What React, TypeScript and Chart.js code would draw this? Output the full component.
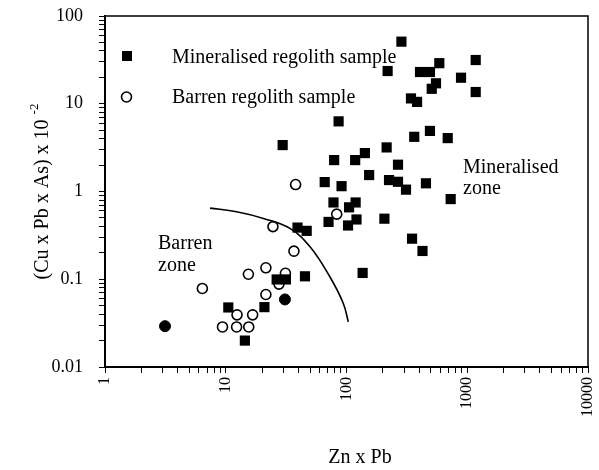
import React, { useEffect, useRef } from 'react';
import { Chart, registerables } from 'chart.js';
Chart.register(...registerables);

// Mineralised regolith samples (filled squares)
const mineralisedX = [285, 219, 587, 406, 491, 1175, 888, 551, 508, 1175, 342, 384, 86, 491, 364, 689, 215, 142, 118, 79, 267, 29.6, 154, 225, 267, 311, 455, 66, 91, 729, 78, 119, 105, 71, 121, 103, 206, 349, 426, 136, 39.3, 46.8, 26.4, 31.5, 45.3, 10.5, 20.9, 14.4];
const mineralisedY = [51, 23.6, 29, 23, 23, 31.5, 19.8, 17.1, 14.8, 13.6, 11.5, 10.5, 6.3, 4.9, 4.2, 4.06, 3.18, 2.74, 2.28, 2.28, 2.02, 3.38, 1.54, 1.35, 1.29, 1.05, 1.24, 1.28, 1.15, 0.82, 0.75, 0.75, 0.66, 0.45, 0.48, 0.41, 0.49, 0.29, 0.21, 0.118, 0.388, 0.356, 0.0995, 0.0995, 0.108, 0.0477, 0.0481, 0.02];

// Barren regolith samples (open circles)
const barrenX = [37.9, 83, 24.6, 36.7, 15.4, 21.5, 31.2, 27.6, 21.5, 6.4, 12.4, 16.7, 9.4, 12.3, 15.5];
const barrenY = [1.2, 0.552, 0.398, 0.209, 0.114, 0.135, 0.117, 0.088, 0.067, 0.0785, 0.0393, 0.0393, 0.0286, 0.0286, 0.0286];

// Filled circles
const filledCircleX = [3.14, 30.9];
const filledCircleY = [0.0292, 0.0589];

// Boundary curve between zones
const boundaryX = [7.41, 12.3, 20.5, 34.0, 49.9, 73.0, 94.1, 103.5];
const boundaryY = [0.647, 0.587, 0.493, 0.38, 0.234, 0.106, 0.053, 0.0327];

const xMajorTicks = [1, 10, 100, 1000, 10000];
const xTickLabels = ['1', '10', '100', '1000', '10000'];
const yMajorTicks = [0.01, 0.1, 1, 10, 100];
const yTickLabels = ['0.01', '0.1', '1', '10', '100'];
const minorSteps = [1, 2, 3, 4, 5, 6, 7, 8, 9];

const legendLabels = ['Mineralised regolith sample', 'Barren regolith sample'];
const xTitle = 'Zn x Pb';
const yTitleMain = '(Cu x Pb x As) x 10';
const yTitleSup = '-2';

const FONT = "'Liberation Serif', 'Times New Roman', serif";

function pts(xs: number[], ys: number[]) {
  return xs.map((x, i) => ({ x, y: ys[i] }));
}

function buildLogTicks(majors: number[]) {
  const t: { value: number }[] = [];
  for (let i = 0; i < majors.length - 1; i++) {
    for (const m of minorSteps) t.push({ value: majors[i] * m });
  }
  t.push({ value: majors[majors.length - 1] });
  return t;
}

function labelFor(value: number, majors: number[], labels: string[]) {
  for (let i = 0; i < majors.length; i++) {
    if (Math.abs(value / majors[i] - 1) < 1e-6) return labels[i];
  }
  return '';
}

const decorPlugin = {
  id: 'decor',
  afterDraw(chart: any) {
    const ctx = chart.ctx;
    const a = chart.chartArea;
    ctx.save();
    // frame top & right
    ctx.strokeStyle = '#000';
    ctx.lineWidth = 1.5;
    ctx.beginPath();
    ctx.moveTo(a.left, a.top);
    ctx.lineTo(a.right, a.top);
    ctx.lineTo(a.right, a.bottom);
    ctx.stroke();

    // legend
    ctx.fillStyle = '#000';
    ctx.fillRect(127 - 5, 56 - 5, 10, 10);
    ctx.beginPath();
    ctx.lineWidth = 1.6;
    ctx.arc(126.5, 97, 5, 0, Math.PI * 2);
    ctx.stroke();
    ctx.font = `20px ${FONT}`;
    ctx.textAlign = 'left';
    ctx.textBaseline = 'alphabetic';
    ctx.fillText(legendLabels[0], 172, 63);
    ctx.fillText(legendLabels[1], 172, 103);

    // zone labels
    ctx.fillText('Mineralised', 463, 173);
    ctx.fillText('zone', 463, 194);
    ctx.fillText('Barren', 158, 249);
    ctx.fillText('zone', 158, 271);

    // x title
    ctx.textAlign = 'center';
    ctx.fillText(xTitle, 360, 463);

    // y title with superscript
    ctx.translate(43, (a.top + a.bottom) / 2);
    ctx.rotate(-Math.PI / 2);
    ctx.font = `20px ${FONT}`;
    const w1 = ctx.measureText(yTitleMain + ' ').width;
    ctx.font = `13px ${FONT}`;
    const w2 = ctx.measureText(yTitleSup).width;
    const start = -(w1 + w2) / 2;
    ctx.textAlign = 'left';
    ctx.textBaseline = 'middle';
    ctx.font = `20px ${FONT}`;
    ctx.fillText(yTitleMain, start, 0);
    ctx.font = `13px ${FONT}`;
    ctx.fillText(yTitleSup, start + w1, -8);
    ctx.restore();
  },
};

export default function App() {
  const ref = useRef<HTMLCanvasElement | null>(null);
  useEffect(() => {
    if (!ref.current) return;
    const chart = new Chart(ref.current, {
      type: 'scatter',
      data: {
        datasets: [
          {
            label: 'Boundary',
            data: pts(boundaryX, boundaryY),
            showLine: true,
            borderColor: '#000',
            borderWidth: 1.6,
            pointRadius: 0,
            tension: 0.4,
            fill: false,
          },
          {
            label: legendLabels[0],
            data: pts(mineralisedX, mineralisedY),
            pointStyle: 'rect',
            pointRadius: 7.2,
            backgroundColor: '#000',
            borderColor: '#000',
            borderWidth: 0,
          },
          {
            label: legendLabels[1],
            data: pts(barrenX, barrenY),
            pointStyle: 'circle',
            pointRadius: 5,
            backgroundColor: '#fff',
            borderColor: '#000',
            borderWidth: 1.6,
          },
          {
            label: 'Barren (filled)',
            data: pts(filledCircleX, filledCircleY),
            pointStyle: 'circle',
            pointRadius: 5.5,
            backgroundColor: '#000',
            borderColor: '#000',
            borderWidth: 1,
          },
        ],
      },
      options: {
        animation: false,
        responsive: false,
        devicePixelRatio: 1,
        layout: { padding: { left: 0, top: 16, right: 11, bottom: 0 } },
        plugins: { legend: { display: false }, tooltip: { enabled: false } },
        scales: {
          x: {
            type: 'logarithmic',
            min: 1,
            max: 10000,
            position: 'bottom',
            border: { display: true, color: '#000', width: 2 },
            grid: { display: true, drawOnChartArea: false, drawTicks: true, tickLength: 6, color: '#000', lineWidth: 1 },
            afterBuildTicks: (scale: any) => { scale.ticks = buildLogTicks(xMajorTicks); },
            afterFit: (scale: any) => {
              scale.height = 103;
              scale.paddingLeft = 0;
              scale.paddingRight = 0;
              scale.paddingTop = 0;
              scale.paddingBottom = 0;
            },
            ticks: {
              autoSkip: false,
              minRotation: 90,
              maxRotation: 90,
              padding: 4,
              color: '#000',
              font: { family: FONT, size: 16 },
              callback: (v: any) => labelFor(Number(v), xMajorTicks, xTickLabels),
            },
          },
          y: {
            type: 'logarithmic',
            min: 0.01,
            max: 100,
            border: { display: true, color: '#000', width: 2 },
            grid: { display: true, drawOnChartArea: false, drawTicks: true, tickLength: 6, color: '#000', lineWidth: 1 },
            afterBuildTicks: (scale: any) => { scale.ticks = buildLogTicks(yMajorTicks); },
            afterFit: (scale: any) => {
              scale.width = 105;
              scale.paddingLeft = 0;
              scale.paddingRight = 0;
              scale.paddingTop = 0;
              scale.paddingBottom = 0;
            },
            ticks: {
              autoSkip: false,
              padding: 16,
              color: '#000',
              font: { family: FONT, size: 18 },
              callback: (v: any) => labelFor(Number(v), yMajorTicks, yTickLabels),
            },
          },
        },
      },
      plugins: [decorPlugin],
    } as any);
    return () => chart.destroy();
  }, []);
  return (
    <div style={{ position: 'absolute', left: 0, top: 0, width: 599, height: 470, background: '#fff' }}>
      <canvas ref={ref} width={599} height={470} />
    </div>
  );
}
